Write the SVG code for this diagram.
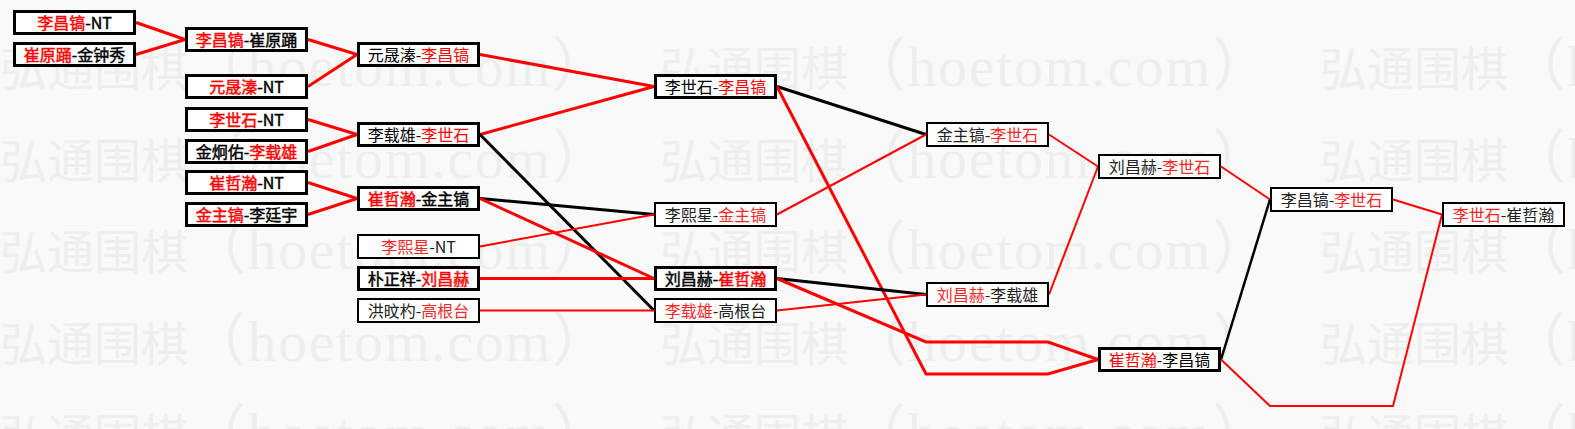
<svg xmlns="http://www.w3.org/2000/svg" width="1575" height="429" viewBox="0 0 1575 429">
<style>
.wm{fill:#eeeeee}
.wc{font-family:"Noto Sans CJK SC","Noto Sans CJK TC",sans-serif;font-size:47px}
.wl{font-family:"Liberation Serif","Noto Sans CJK SC",serif;font-size:58px}
.c{fill:none;stroke-linejoin:miter}
.cr{stroke:#ff0000}
.ck{stroke:#000}
.w3{stroke-width:3}
.w2{stroke-width:2}
.bt{fill:#fff;stroke:#000;stroke-width:3}
.bn{fill:#fff;stroke:#000;stroke-width:2}
.t{font-family:"Noto Sans CJK SC","Noto Sans CJK TC",sans-serif;font-size:16px;text-anchor:middle;fill:#000}
.tb{stroke:#000;stroke-width:0.45}
.tb .r{stroke:#ff0000}
.tn{fill:#222}
.r{fill:#ff0000}
.tn .r{fill:#f02828}
</style>
<rect width="1575" height="429" fill="#f9f9f9"/>
<g id="watermark" class="wm">
<text class="wc" x="0" y="86">弘通围棋</text><text class="wl" x="188" y="86" textLength="422" lengthAdjust="spacing">（hoetom.com）</text>
<text class="wc" x="660" y="86">弘通围棋</text><text class="wl" x="848" y="86" textLength="422" lengthAdjust="spacing">（hoetom.com）</text>
<text class="wc" x="1320" y="86">弘通围棋</text><text class="wl" x="1508" y="86" textLength="422" lengthAdjust="spacing">（hoetom.com）</text>
<text class="wc" x="0" y="178">弘通围棋</text><text class="wl" x="188" y="178" textLength="422" lengthAdjust="spacing">（hoetom.com）</text>
<text class="wc" x="660" y="178">弘通围棋</text><text class="wl" x="848" y="178" textLength="422" lengthAdjust="spacing">（hoetom.com）</text>
<text class="wc" x="1320" y="178">弘通围棋</text><text class="wl" x="1508" y="178" textLength="422" lengthAdjust="spacing">（hoetom.com）</text>
<text class="wc" x="0" y="269">弘通围棋</text><text class="wl" x="188" y="269" textLength="422" lengthAdjust="spacing">（hoetom.com）</text>
<text class="wc" x="660" y="269">弘通围棋</text><text class="wl" x="848" y="269" textLength="422" lengthAdjust="spacing">（hoetom.com）</text>
<text class="wc" x="1320" y="269">弘通围棋</text><text class="wl" x="1508" y="269" textLength="422" lengthAdjust="spacing">（hoetom.com）</text>
<text class="wc" x="0" y="361">弘通围棋</text><text class="wl" x="188" y="361" textLength="422" lengthAdjust="spacing">（hoetom.com）</text>
<text class="wc" x="660" y="361">弘通围棋</text><text class="wl" x="848" y="361" textLength="422" lengthAdjust="spacing">（hoetom.com）</text>
<text class="wc" x="1320" y="361">弘通围棋</text><text class="wl" x="1508" y="361" textLength="422" lengthAdjust="spacing">（hoetom.com）</text>
<text class="wc" x="0" y="453">弘通围棋</text><text class="wl" x="188" y="453" textLength="422" lengthAdjust="spacing">（hoetom.com）</text>
<text class="wc" x="660" y="453">弘通围棋</text><text class="wl" x="848" y="453" textLength="422" lengthAdjust="spacing">（hoetom.com）</text>
<text class="wc" x="1320" y="453">弘通围棋</text><text class="wl" x="1508" y="453" textLength="422" lengthAdjust="spacing">（hoetom.com）</text>
</g>
<g id="connectors">
<polyline class="c cr w3" points="136,22.5 185,39.5"/>
<polyline class="c cr w3" points="136,54.5 185,39.5"/>
<polyline class="c cr w3" points="308,39.5 357,54.5"/>
<polyline class="c cr w3" points="308,86.5 357,54.5"/>
<polyline class="c cr w3" points="308,119.5 357,134.5"/>
<polyline class="c cr w3" points="308,151.5 357,134.5"/>
<polyline class="c cr w3" points="308,182.5 357,198.5"/>
<polyline class="c cr w3" points="308,214.5 357,198.5"/>
<polyline class="c cr w3" points="480,54.5 654,86.5"/>
<polyline class="c cr w3" points="480,134.5 654,86.5"/>
<polyline class="c ck w3" points="480,134.5 654,310.5"/>
<polyline class="c ck w3" points="480,198.5 654,214.5"/>
<polyline class="c cr w3" points="480,198.5 654,278.5"/>
<polyline class="c cr w2" points="480,246.5 654,214.5"/>
<polyline class="c cr w3" points="480,278.5 654,278.5"/>
<polyline class="c cr w2" points="480,310.5 654,310.5"/>
<polyline class="c ck w3" points="777,86.5 926,134.5"/>
<polyline class="c cr w3" points="777,86.5 926,374 1048,374 1098,359.5"/>
<polyline class="c cr w2" points="777,214.5 926,134.5"/>
<polyline class="c ck w3" points="777,278.5 926,294.5"/>
<polyline class="c cr w3" points="777,278.5 926,342 1048,342 1098,359.5"/>
<polyline class="c cr w2" points="777,310.5 926,294.5"/>
<polyline class="c cr w2" points="1049,134.5 1098,166.5"/>
<polyline class="c cr w2" points="1049,294.5 1098,166.5"/>
<polyline class="c cr w2" points="1221,166.5 1270,199.5"/>
<polyline class="c ck" stroke-width="2.5" points="1221,359.5 1270,199.5"/>
<polyline class="c cr w2" points="1393,199.5 1442,214.5"/>
<polyline class="c cr w2" points="1221,359.5 1270,406 1393,406 1442,214.5"/>
</g>
<g id="A1"><rect class="bt" x="14.5" y="11.5" width="120" height="22"/><text class="t tb" x="74.5" y="28.5"><tspan class="r">李昌镐</tspan>-NT</text></g>
<g id="A2"><rect class="bt" x="14.5" y="43.5" width="120" height="22"/><text class="t tb" x="74.5" y="60.5"><tspan class="r">崔原踊</tspan>-金钟秀</text></g>
<g id="B1"><rect class="bt" x="186.5" y="28.5" width="120" height="22"/><text class="t tb" x="246.5" y="45.5"><tspan class="r">李昌镐</tspan>-崔原踊</text></g>
<g id="B2"><rect class="bt" x="186.5" y="75.5" width="120" height="22"/><text class="t tb" x="246.5" y="92.5"><tspan class="r">元晟溱</tspan>-NT</text></g>
<g id="B3"><rect class="bt" x="186.5" y="108.5" width="120" height="22"/><text class="t tb" x="246.5" y="125.5"><tspan class="r">李世石</tspan>-NT</text></g>
<g id="B4"><rect class="bt" x="186.5" y="140.5" width="120" height="22"/><text class="t tb" x="246.5" y="157.5">金炯佑-<tspan class="r">李载雄</tspan></text></g>
<g id="B5"><rect class="bt" x="186.5" y="171.5" width="120" height="22"/><text class="t tb" x="246.5" y="188.5"><tspan class="r">崔哲瀚</tspan>-NT</text></g>
<g id="B6"><rect class="bt" x="186.5" y="203.5" width="120" height="22"/><text class="t tb" x="246.5" y="220.5"><tspan class="r">金主镐</tspan>-李廷宇</text></g>
<g id="C1"><rect class="bt" x="358.5" y="43.5" width="120" height="22"/><text class="t" x="418.5" y="60.5">元晟溱-<tspan class="r">李昌镐</tspan></text></g>
<g id="C2"><rect class="bt" x="358.5" y="123.5" width="120" height="22"/><text class="t" x="418.5" y="140.5">李载雄-<tspan class="r">李世石</tspan></text></g>
<g id="C3"><rect class="bt" x="358.5" y="187.5" width="120" height="22"/><text class="t tb" x="418.5" y="204.5"><tspan class="r">崔哲瀚</tspan>-金主镐</text></g>
<g id="C4"><rect class="bn" x="358" y="235" width="121" height="23"/><text class="t tn" x="418.5" y="252.5"><tspan class="r">李熙星</tspan>-NT</text></g>
<g id="C5"><rect class="bt" x="358.5" y="267.5" width="120" height="22"/><text class="t tb" x="418.5" y="284.5">朴正祥-<tspan class="r">刘昌赫</tspan></text></g>
<g id="C6"><rect class="bn" x="358" y="299" width="121" height="23"/><text class="t tn" x="418.5" y="316.5">洪旼杓-<tspan class="r">高根台</tspan></text></g>
<g id="D1"><rect class="bt" x="655.5" y="75.5" width="120" height="22"/><text class="t" x="715.5" y="92.5">李世石-<tspan class="r">李昌镐</tspan></text></g>
<g id="D2"><rect class="bn" x="655" y="203" width="121" height="23"/><text class="t tn" x="715.5" y="220.5">李熙星-<tspan class="r">金主镐</tspan></text></g>
<g id="D3"><rect class="bt" x="655.5" y="267.5" width="120" height="22"/><text class="t tb" x="715.5" y="284.5">刘昌赫-<tspan class="r">崔哲瀚</tspan></text></g>
<g id="D4"><rect class="bn" x="655" y="299" width="121" height="23"/><text class="t tn" x="715.5" y="316.5"><tspan class="r">李载雄</tspan>-高根台</text></g>
<g id="E1"><rect class="bn" x="927" y="123" width="121" height="23"/><text class="t tn" x="987.5" y="140.5">金主镐-<tspan class="r">李世石</tspan></text></g>
<g id="E2"><rect class="bn" x="927" y="283" width="121" height="23"/><text class="t tn" x="987.5" y="300.5"><tspan class="r">刘昌赫</tspan>-李载雄</text></g>
<g id="F1"><rect class="bn" x="1099" y="155" width="121" height="23"/><text class="t tn" x="1159.5" y="172.5">刘昌赫-<tspan class="r">李世石</tspan></text></g>
<g id="F2"><rect class="bt" x="1099.5" y="348.5" width="120" height="22"/><text class="t" x="1159.5" y="365.5"><tspan class="r">崔哲瀚</tspan>-李昌镐</text></g>
<g id="G1"><rect class="bn" x="1271" y="188" width="121" height="23"/><text class="t tn" x="1331.5" y="205.5">李昌镐-<tspan class="r">李世石</tspan></text></g>
<g id="H1"><rect class="bn" x="1443" y="203" width="121" height="23"/><text class="t tn" x="1503.5" y="220.5"><tspan class="r">李世石</tspan>-崔哲瀚</text></g>
</svg>
